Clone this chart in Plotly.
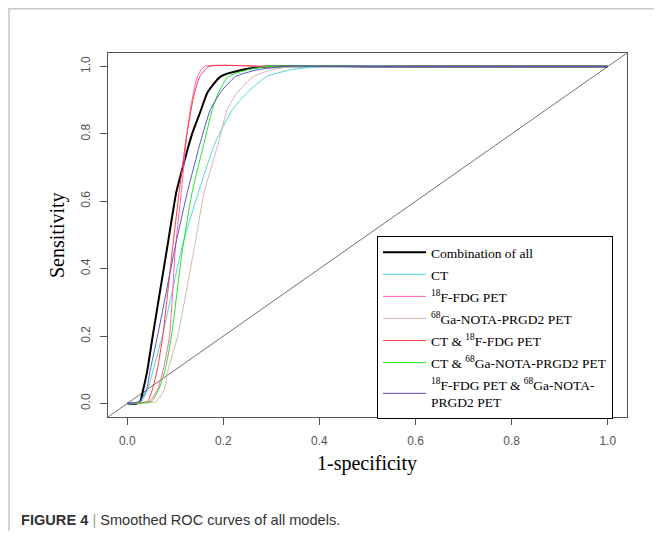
import plotly.graph_objects as go

# ---- data ----
series_names = [
    "Combination of all",
    "CT",
    "<sup>18</sup>F-FDG PET",
    "<sup>68</sup>Ga-NOTA-PRGD2 PET",
    "CT &amp; <sup>18</sup>F-FDG PET",
    "CT &amp; <sup>68</sup>Ga-NOTA-PRGD2 PET",
    "<sup>18</sup>F-FDG PET &amp; <sup>68</sup>Ga-NOTA-<br>PRGD2 PET",
]

comb_x = [0, 0.02, 0.027, 0.033, 0.042, 0.053, 0.084, 0.102, 0.120, 0.135, 0.152, 0.167, 0.194, 0.24, 0.29, 0.5, 1.0]
comb_y = [0, 0, 0.006, 0.04, 0.10, 0.20, 0.47, 0.626, 0.725, 0.80, 0.865, 0.923, 0.97, 0.99, 1.0, 1.0, 1.0]

ct_x = [0, 0.029, 0.042, 0.054, 0.073, 0.115, 0.148, 0.183, 0.219, 0.25, 0.29, 0.34, 0.40, 0.6, 1.0]
ct_y = [0, 0.006, 0.04, 0.10, 0.20, 0.47, 0.626, 0.774, 0.872, 0.923, 0.97, 0.99, 1.0, 1.0, 1.0]

fdg_x = [0, 0.046, 0.0625, 0.075, 0.088, 0.10, 0.1125, 0.122, 0.13, 0.138, 0.146, 0.16, 0.3, 1.0]
fdg_y = [0, 0.006, 0.04, 0.10, 0.20, 0.457, 0.626, 0.77, 0.86, 0.923, 0.97, 1.0, 1.0, 1.0]

ga_x = [0, 0.06, 0.077, 0.085, 0.105, 0.139, 0.16, 0.19, 0.208, 0.229, 0.2625, 0.30, 0.34, 0.5, 1.0]
ga_y = [0, 0.006, 0.04, 0.10, 0.20, 0.457, 0.626, 0.774, 0.872, 0.923, 0.97, 0.99, 1.0, 1.0, 1.0]

ct_fdg_x = [0, 0.042, 0.052, 0.0625, 0.074, 0.094, 0.108, 0.123, 0.131, 0.138, 0.151, 0.17, 0.3, 1.0]
ct_fdg_y = [0, 0.006, 0.04, 0.10, 0.20, 0.457, 0.626, 0.79, 0.855, 0.91, 0.97, 1.0, 1.0, 1.0]

ct_ga_x = [0, 0.05, 0.065, 0.079, 0.092, 0.115, 0.135, 0.16, 0.177, 0.19, 0.21, 0.25, 0.29, 0.5, 1.0]
ct_ga_y = [0, 0.006, 0.04, 0.10, 0.20, 0.457, 0.626, 0.774, 0.872, 0.923, 0.97, 0.99, 1.0, 1.0, 1.0]

fdg_ga_x = [0, 0.025, 0.040, 0.048, 0.063, 0.102, 0.125, 0.152, 0.173, 0.194, 0.225, 0.27, 0.33, 0.5, 1.0]
fdg_ga_y = [0, 0.006, 0.04, 0.10, 0.20, 0.48, 0.626, 0.774, 0.872, 0.923, 0.97, 0.99, 1.0, 1.0, 1.0]

tick_vals = [0.0, 0.2, 0.4, 0.6, 0.8, 1.0]
tick_text = ["0.0", "0.2", "0.4", "0.6", "0.8", "1.0"]
axis_range = [-0.04, 1.04]

colors = ["#000000", "#4fd6dc", "#ff5fb4", "#d9b3ae", "#ff3b3b", "#22e822", "#5555c8"]
widths = [2, 1, 1, 1, 1, 1, 1]

xs = [comb_x, ct_x, fdg_x, ga_x, ct_fdg_x, ct_ga_x, fdg_ga_x]
ys = [comb_y, ct_y, fdg_y, ga_y, ct_fdg_y, ct_ga_y, fdg_ga_y]

# page has an 8px body margin: the figure is placed at (8, 8) in the window
W, H = 654, 523
PL, PR, PT, PB = 108, 627, 53, 417   # plot area in window pixels


def px(wx):
    return (wx - PL) / (PR - PL)


def py(wy):
    return (PB - wy) / (PB - PT)


fig = go.Figure()

# diagonal reference line (abline 0,1)
fig.add_trace(go.Scatter(x=axis_range, y=axis_range, mode="lines",
                         line=dict(color="#707070", width=1), showlegend=False,
                         hoverinfo="skip", legendgroup="diag"))

for i, (name, x, y) in enumerate(zip(series_names, xs, ys)):
    fig.add_trace(go.Scatter(
        x=x, y=y, mode="lines", name=name, legendgroup=f"g{i}",
        line=dict(color=colors[i], width=widths[i], shape="spline", smoothing=0.5),
    ))

tick_font = dict(family="Liberation Sans, Arial", size=12, color="#555555")
axis_common = dict(
    range=axis_range, tickvals=tick_vals, ticktext=tick_text,
    showgrid=False, zeroline=False, showline=True, mirror=True,
    linecolor="#555555", linewidth=1,
    ticks="outside", ticklen=7, tickcolor="#555555", tickwidth=1,
    tickfont=tick_font,
)

fig.update_layout(
    width=W, height=H,
    margin=dict(l=PL - 8, r=W - (PR - 8), t=PT - 8, b=H - (PB - 8)),
    paper_bgcolor="white", plot_bgcolor="white",
    xaxis=dict(**axis_common, ticklabelstandoff=6),
    yaxis=dict(**axis_common, tickangle=-90, ticklabelstandoff=5),
    legend=dict(
        x=px(377), y=py(236), xanchor="left", yanchor="top",
        bgcolor="white", bordercolor="#000000", borderwidth=1,
        font=dict(family="Liberation Serif", size=13.5, color="#000000"),
        tracegroupgap=1.5, traceorder="grouped", itemwidth=43,
    ),
    showlegend=True,
)

# axis titles
fig.add_annotation(text="Sensitivity", xref="paper", yref="paper",
                   x=px(57), y=py(235), showarrow=False,
                   textangle=-90, font=dict(family="Liberation Serif", size=20, color="#000000"),
                   xanchor="center", yanchor="middle")
fig.add_annotation(text="1-specificity", xref="paper", yref="paper",
                   x=px(367), y=py(463), showarrow=False,
                   font=dict(family="Liberation Serif", size=20, color="#000000"),
                   xanchor="center", yanchor="middle")

# caption
fig.add_annotation(
    text="<b>FIGURE 4</b> <span style='color:#999999'>|</span> Smoothed ROC curves of all models.",
    xref="paper", yref="paper", x=px(19), y=py(520),
    showarrow=False, xanchor="left", yanchor="middle",
    font=dict(family="Liberation Sans, Arial", size=14.6, color="#333333"))

# outer light frame
fig.add_shape(type="rect", xref="paper", yref="paper",
              x0=px(9), x1=px(660), y0=py(570), y1=py(8.8),
              line=dict(color="#c8c8c8", width=1.5), layer="below")

fig.write_html("out.html")
